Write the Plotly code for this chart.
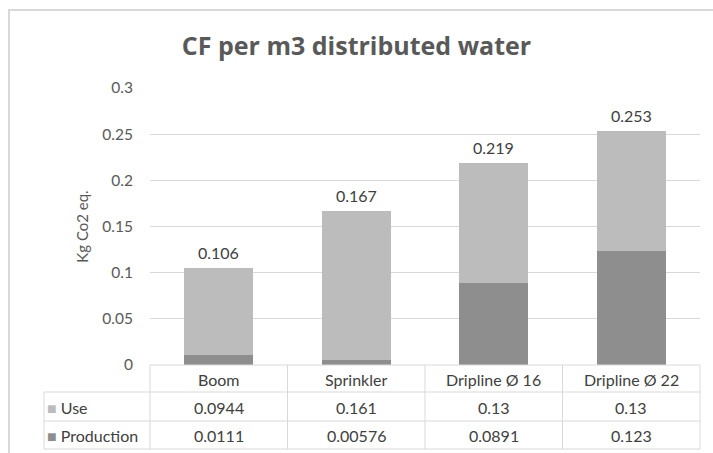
import plotly.graph_objects as go
from decimal import Decimal, ROUND_HALF_UP

categories = ["Boom", "Sprinkler", "Dripline Ø 16", "Dripline Ø 22"]
use_vals = [0.0944, 0.161, 0.13, 0.13]
prod_vals = [0.0111, 0.00576, 0.0891, 0.123]
use_labels = ["0.0944", "0.161", "0.13", "0.13"]
prod_labels = ["0.0111", "0.00576", "0.0891", "0.123"]
y_ticks = [0, 0.05, 0.1, 0.15, 0.2, 0.25, 0.3]
y_tick_text = ["0", "0.05", "0.1", "0.15", "0.2", "0.25", "0.3"]

USE_COL = "#bcbcbc"
PROD_COL = "#8e8e8e"
TXT = "#404040"
GRID = "#d9d9d9"
FONT = "Lato"

W, H = 713, 453
L, R, T, B = 150, 700, 88, 365


def px(x):
    return (x - L) / (R - L)


def py(y):
    return (B - y) / (B - T)


fig = go.Figure()
fig.add_trace(go.Bar(x=list(range(len(categories))), y=prod_vals, name="Production",
                     marker=dict(color=PROD_COL, line=dict(width=0))))
fig.add_trace(go.Bar(x=list(range(len(categories))), y=use_vals, name="Use",
                     marker=dict(color=USE_COL, line=dict(width=0))))

annotations = []
for i, (u, p) in enumerate(zip(use_vals, prod_vals)):
    tot = Decimal(str(u)) + Decimal(str(p))
    lab = str(tot.quantize(Decimal("0.001"), rounding=ROUND_HALF_UP))
    annotations.append(dict(x=i, y=float(tot), xref="x", yref="y", text=lab, showarrow=False,
                            yanchor="bottom", yshift=4, font=dict(family=FONT, size=16, color=TXT)))

# table text
TS = 16
row_y = {"head": 379, "use": 407, "prod": 435}
for i, c in enumerate(categories):
    for key, txt in (("head", c), ("use", use_labels[i]), ("prod", prod_labels[i])):
        annotations.append(dict(x=i, y=py(row_y[key]), xref="x", yref="paper", text=txt, showarrow=False,
                                xanchor="center", yanchor="middle",
                                font=dict(family=FONT, size=TS, color=TXT)))
annotations.append(dict(x=px(45), y=py(row_y["use"]), xref="paper", yref="paper", xanchor="left",
                        yanchor="middle",
                        text=f"<span style='color:{USE_COL}'>■</span> Use", showarrow=False,
                        font=dict(family=FONT, size=TS, color=TXT)))
annotations.append(dict(x=px(45), y=py(row_y["prod"]), xref="paper", yref="paper", xanchor="left",
                        yanchor="middle",
                        text=f"<span style='color:{PROD_COL}'>■</span> Production", showarrow=False,
                        font=dict(family=FONT, size=TS, color=TXT)))

shapes = []


def hline(y, x0, x1, color=GRID):
    shapes.append(dict(type="line", xref="paper", yref="paper", x0=px(x0), x1=px(x1), y0=py(y), y1=py(y),
                       line=dict(color=color, width=1)))


def vline(x, y0, y1, xref="paper", color=GRID):
    xv = px(x) if xref == "paper" else x
    shapes.append(dict(type="line", xref=xref, yref="paper", x0=xv, x1=xv, y0=py(y0), y1=py(y1),
                       line=dict(color=color, width=1)))


hline(365, 150, 700)
hline(392, 44, 700)
hline(421, 44, 700)
hline(449, 44, 700)
vline(44, 392, 449)
vline(150, 365, 449)
vline(700, 365, 449)
for k in range(1, len(categories)):
    vline(k - 0.5, 365, 449, xref="x")

# outer chart frame
shapes.append(dict(type="line", xref="paper", yref="paper", x0=px(9), x1=px(9), y0=py(9), y1=py(460),
                   line=dict(color=GRID, width=2)))
shapes.append(dict(type="line", xref="paper", yref="paper", x0=px(8), x1=px(720), y0=py(10), y1=py(10),
                   line=dict(color=GRID, width=2)))

fig.update_layout(
    width=W, height=H,
    margin=dict(l=L, r=W - R, t=T, b=H - B, pad=0),
    paper_bgcolor="white", plot_bgcolor="white",
    barmode="stack", bargap=0.5,
    showlegend=False,
    title=dict(text="<b>CF per m3 distributed water</b>", x=0.5, xanchor="center", y=1 - 46 / H, yanchor="middle",
               font=dict(family="Open Sans", size=25, color="#595959")),
    xaxis=dict(range=[-0.5, len(categories) - 0.5], showticklabels=False, showgrid=False, zeroline=False,
               showline=False, fixedrange=True),
    yaxis=dict(range=[0, 0.3], tickvals=y_ticks, ticktext=y_tick_text, showgrid=True, gridcolor=GRID,
               gridwidth=1, zeroline=False, showline=False, ticks="", ticklabelstandoff=16,
               tickfont=dict(family=FONT, size=15.5, color="#595959"),
               title=dict(text="Kg Co2 eq.", standoff=10, font=dict(family=FONT, size=15, color="#595959"))),
    annotations=annotations,
    shapes=shapes,
    font=dict(family=FONT),
)

fig.write_html("out.html", config={"displayModeBar": False},
               post_script="document.body.style.margin='0';document.body.style.padding='0';")
